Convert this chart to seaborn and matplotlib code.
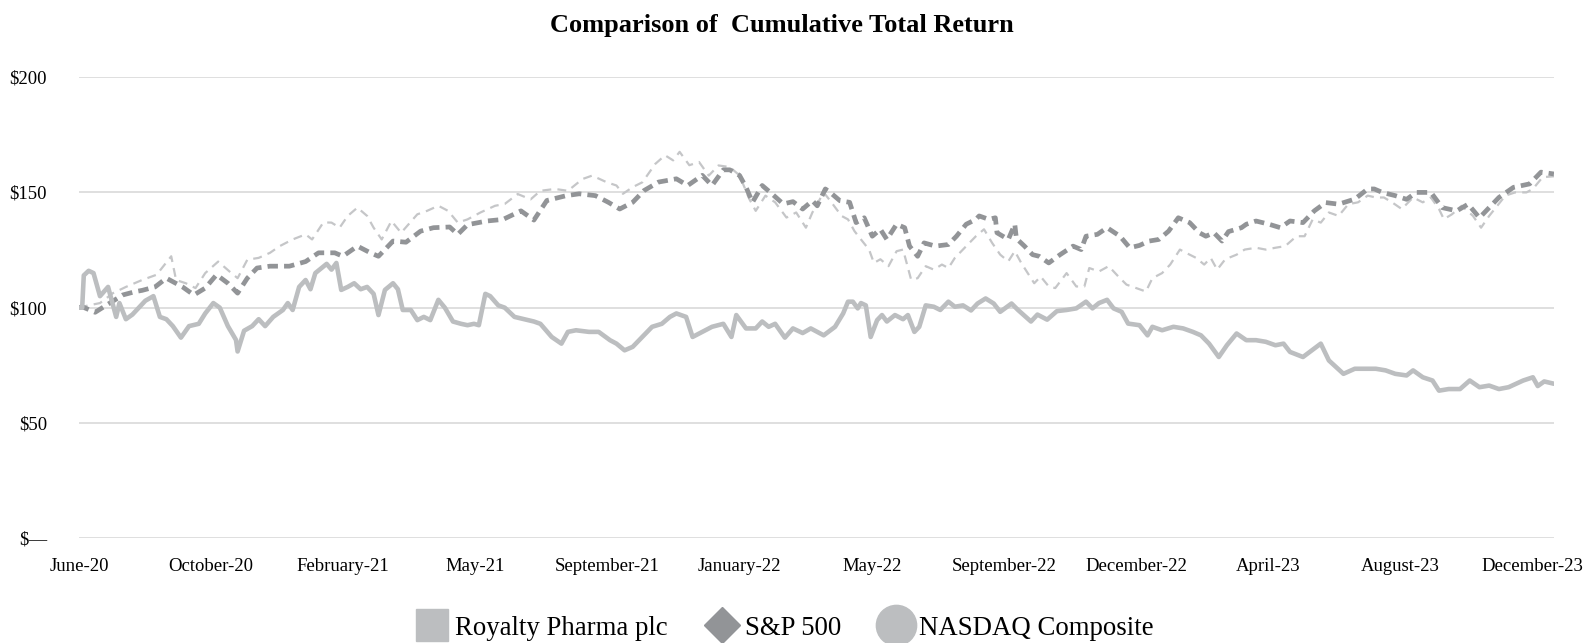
import numpy as np
import pandas as pd
import matplotlib
matplotlib.use("Agg")
import matplotlib.pyplot as plt
from matplotlib.lines import Line2D
from matplotlib.ticker import FuncFormatter
import seaborn as sns

# valores (indice = dia de cotizacion desde junio 2020)
rp_days = [0, 2, 3, 6, 9, 13, 18, 23, 25, 29, 33, 41, 46, 50, 54, 58, 63, 68, 74, 78,
           83, 87, 92, 97, 98, 102, 107, 111, 115, 120, 126, 129, 132, 136, 140, 143, 146, 153, 156, 159,
           162, 166, 170, 174, 178, 182, 185, 189, 194, 197, 200, 205, 209, 213, 217, 222, 226, 231, 236, 240,
           244, 247, 251, 254, 259, 263, 269, 275, 281, 285, 292, 298, 302, 307, 315, 321, 328, 332, 337, 342,
           346, 350, 354, 360, 365, 369, 375, 379, 385, 391, 398, 403, 406, 412, 418, 422, 426, 430, 436, 441,
           447, 452, 460, 467, 472, 475, 478, 481, 483, 486, 489, 493, 496, 499, 504, 509, 512, 516, 519, 523,
           528, 532, 537, 541, 546, 551, 555, 560, 565, 569, 576, 580, 588, 592, 598, 604, 610, 616, 622, 626,
           630, 635, 639, 644, 648, 655, 660, 663, 669, 676, 682, 688, 693, 698, 704, 709, 715, 721, 727, 733,
           739, 744, 748, 756, 767, 772, 781, 788, 795, 801, 807, 813, 820, 824, 830, 836, 840, 846, 853, 859,
           865, 871, 877, 883, 892, 898, 901, 905, 911]
rp_vals = [100, 100, 114, 116, 115, 105, 109, 96, 102, 95, 97, 103, 105, 96, 95, 92, 87, 92, 93, 97.5,
           102, 100, 92, 86, 81, 90, 92, 95, 92, 96, 99, 102, 99, 109, 112, 108, 115, 119, 116.5, 119.4,
           107.7, 109, 110.6, 108, 109, 106, 96.8, 107.7, 110.6, 108, 99, 99, 94.6, 96, 94.6, 103.4, 100, 94, 93, 92.4,
           93, 92.4, 106, 105, 101, 100, 96, 95, 94, 93, 87.3, 84.4, 89.5, 90.2, 89.5, 89.5, 85.9, 84.4, 81.5, 83,
           85.9, 88.8, 91.7, 93, 96, 97.5, 96, 87.3, 89.5, 91.7, 93, 87.3, 96.8, 91, 91, 94, 91.7, 93, 87, 91,
           89, 91, 88, 91.7, 97.5, 102.6, 102.6, 99.7, 102, 101, 87.3, 94.6, 96.8, 94, 96.8, 95, 96.8, 89.5, 91.7, 101,
           100.4, 99, 102.6, 100.4, 101, 98.8, 101.8, 104, 101.8, 98.2, 101.8, 99, 94, 97, 94.8, 98.5, 99, 99.7, 102.6, 99.7,
           102, 103.4, 99.7, 98.2, 93.1, 92.4, 88, 91.7, 90.2, 91.7, 91, 89.5, 88, 84.4, 78.6, 83.7, 88.8, 85.9, 85.9, 85.2,
           83.7, 84.4, 80.8, 78.6, 84.4, 77.1, 71.3, 73.5, 73.5, 73.5, 72.8, 71.3, 70.6, 72.8, 69.8, 68.4, 64, 64.7, 64.7, 68.4,
           65.5, 66.2, 64.7, 65.5, 68.4, 69.8, 66, 68, 67]

sp_days = [0, 2, 10, 19, 27, 35, 39, 47, 54, 64, 71, 78, 85, 92, 98, 104, 110, 118, 130, 140,
           148, 158, 163, 172, 180, 185, 194, 202, 211, 219, 229, 234, 240, 252, 262, 273, 281, 289, 301, 309,
           319, 327, 334, 342, 349, 358, 369, 376, 385, 391, 398, 402, 408, 412, 416, 422, 428, 435, 441, 447,
           453, 456, 461, 464, 470, 476, 480, 485, 490, 495, 499, 505, 510, 513, 518, 522, 529, 537, 542, 548,
           554, 556, 562, 566, 567, 574, 578, 579, 584, 589, 593, 599, 606, 614, 619, 622, 629, 635, 643, 649,
           655, 661, 667, 673, 679, 686, 692, 696, 701, 706, 710, 718, 721, 727, 735, 742, 748, 756, 763, 770,
           778, 788, 796, 800, 805, 813, 820, 826, 835, 842, 851, 858, 865, 871, 877, 886, 896, 903, 911]
sp_vals = [100, 100.4, 98, 102, 105.5, 107, 107.5, 109, 112.8, 109, 105.5, 108.5, 114.3, 110.6, 106.3, 112.8, 117.2, 118, 118, 120,
           123.8, 123.8, 122.3, 126.7, 123.8, 122.3, 128.9, 128.4, 133.2, 134.7, 135, 131.8, 136, 137.6, 138.3, 142, 138, 146.5, 148.6, 149.4,
           148.6, 145.7, 142.8, 145.7, 150.8, 154.5, 155.9, 153, 157.4, 153, 159.8, 159.8, 157.4, 152.3, 145.7, 153, 149.4, 145, 146, 142.8,
           146.4, 144.2, 151.5, 150, 146.4, 145.7, 136.9, 139, 131, 134, 129.6, 136.2, 134.7, 126.7, 122.3, 128.1, 126.7, 127.4, 131, 136.2,
           138.3, 139.8, 138.3, 139, 132.5, 129.6, 136.2, 130, 126.7, 123, 122.3, 119.4, 123, 126.7, 125.2, 131, 131.8, 134.7, 131, 126,
           127, 128.9, 129.6, 133.2, 139, 136.9, 132.5, 131, 132.5, 128.9, 133, 134.7, 136.2, 137.6, 136.2, 134.7, 137.6, 136.9, 142, 145.6,
           144.9, 147.1, 151.5, 151.5, 150, 148.6, 147, 150, 150, 143.4, 142, 144.9, 139, 143.4, 147.8, 152.2, 153.7, 158.8, 158]

nq_days = [0, 2, 13, 21, 29, 39, 48, 57, 60, 66, 72, 78, 86, 93, 98, 104, 111, 118, 124, 132,
           140, 144, 151, 156, 161, 166, 172, 178, 182, 187, 193, 199, 209, 215, 222, 228, 234, 240, 248, 257,
           263, 271, 279, 285, 294, 302, 311, 317, 326, 332, 336, 342, 348, 356, 362, 367, 371, 377, 383, 389,
           395, 402, 408, 414, 418, 424, 430, 437, 443, 449, 453, 460, 464, 471, 475, 479, 483, 488, 491, 495,
           500, 505, 509, 514, 518, 523, 528, 533, 537, 541, 544, 549, 554, 559, 564, 569, 574, 578, 582, 586,
           590, 594, 599, 603, 610, 616, 621, 624, 630, 636, 642, 647, 653, 659, 663, 669, 674, 680, 686, 690,
           695, 699, 703, 708, 715, 720, 727, 733, 739, 745, 752, 757, 762, 767, 772, 778, 784, 790, 796, 801,
           806, 811, 817, 824, 830, 835, 840, 843, 848, 854, 861, 866, 871, 876, 881, 887, 894, 898, 904, 911]
nq_vals = [100, 100.4, 102, 106.3, 109, 112, 114.3, 122.3, 112, 110.6, 108.5, 115, 120, 115.7, 112.8, 120.8, 121.6, 123.8, 126.7, 129.6,
           131.8, 129.6, 137, 136.9, 134.7, 139.8, 143.4, 139.8, 134.7, 129.6, 137.6, 132.5, 140.5, 142, 144.2, 142, 136.9, 138.3, 141.3, 144.2,
           145, 149.3, 147, 150.7, 151.5, 150.7, 155.8, 157.3, 154.4, 153, 149.4, 152.3, 154.4, 162.4, 166.1, 163.9, 167.6, 161.8, 163.2, 157.3,
           161.7, 161, 157.4, 147.2, 142, 148.6, 145.7, 139.1, 141.3, 134.7, 141.3, 150, 146.4, 139.8, 138.3, 133.2, 129.6, 125.2, 119.4, 121,
           118, 124.5, 125.2, 112.1, 112.8, 118, 116.5, 118.7, 117.2, 121.6, 123.8, 127.4, 131, 134, 128.1, 123, 120.1, 124.5, 119.4, 115,
           110.6, 113.5, 109.2, 108.5, 115, 109.2, 109.2, 117.2, 115.7, 118, 113.5, 110, 108.5, 107, 112.8, 115, 118.7, 125.2, 123, 121.6,
           118.7, 121.6, 116.5, 121, 123, 125.2, 126, 125.2, 126, 126.7, 131, 131, 138.3, 136.9, 141.3, 139.8, 144.9, 145.7, 148.6, 147.8,
           147.8, 145.7, 142.8, 147.8, 145.7, 147.8, 142.8, 138.4, 140.5, 144.2, 139.8, 134.7, 139.8, 144.2, 148.6, 150, 150, 151.5, 156.6, 157]

tick_labels = ["June-20", "October-20", "February-21", "May-21", "September-21", "January-22",
               "May-22", "September-22", "December-22", "April-23", "August-23", "December-23"]
y_ticks = [0, 50, 100, 150, 200]

series = ["Royalty Pharma plc", "S&P 500", "NASDAQ Composite"]
colores = {"Royalty Pharma plc": "#bcbec0", "S&P 500": "#929497", "NASDAQ Composite": "#c5c6c8"}

sns.set_theme(style="white")
plt.rcParams['font.family'] = ['Liberation Serif', 'DejaVu Serif']
plt.rcParams['text.color'] = 'black'
plt.rcParams['xtick.color'] = 'black'
plt.rcParams['ytick.color'] = 'black'

fig = plt.figure(figsize=(15.85, 6.43), dpi=100)
ax = fig.add_axes([0.0498, 0.163, 0.9306, 0.717])

for y in y_ticks:
    ax.axhline(y, color="#dcdcdc", linewidth=1.3, zorder=0)

sns.lineplot(x=nq_days, y=nq_vals, ax=ax, color=colores["NASDAQ Composite"], linewidth=1.6, zorder=2)
ax.lines[-1].set_dashes((4, 2.8))
sns.lineplot(x=sp_days, y=sp_vals, ax=ax, color=colores["S&P 500"], linewidth=3.4, zorder=3)
ax.lines[-1].set_dashes((2.2, 1.3))
sns.lineplot(x=rp_days, y=rp_vals, ax=ax, color=colores["Royalty Pharma plc"], linewidth=3.3, zorder=4)

ax.set_xlim(0, 911)
ax.set_ylim(0, 200)
ax.set_yticks(y_ticks)
ax.yaxis.set_major_formatter(FuncFormatter(lambda v, p: "$\u2014" if v == 0 else f"${v:.0f}"))
ax.set_xticks(np.linspace(0, 898, len(tick_labels)))
ax.set_xticklabels(tick_labels)
ax.tick_params(axis="y", length=0, pad=23, labelsize=13.5)
ax.tick_params(axis="x", length=0, pad=14, labelsize=13.5)
ax.set_xlabel("")
ax.set_ylabel("")
sns.despine(ax=ax, left=True, bottom=True)

fig.text(0.493, 0.961, "Comparison of  Cumulative Total Return", ha="center", va="center",
         fontsize=19, fontweight="bold")

handles = [
    Line2D([], [], linestyle="none", marker="s", markersize=23, color=colores["Royalty Pharma plc"]),
    Line2D([], [], linestyle="none", marker="D", markersize=18, color=colores["S&P 500"]),
    Line2D([], [], linestyle="none", marker="o", markersize=29, color=colores["Royalty Pharma plc"]),
]
fig.legend(handles, series, loc="lower center", bbox_to_anchor=(0.495, -0.034), ncol=3, frameon=False,
           fontsize=19.3, handletextpad=0.25, columnspacing=1.45, handlelength=1.2)

fig.savefig("out.png", dpi=100)
